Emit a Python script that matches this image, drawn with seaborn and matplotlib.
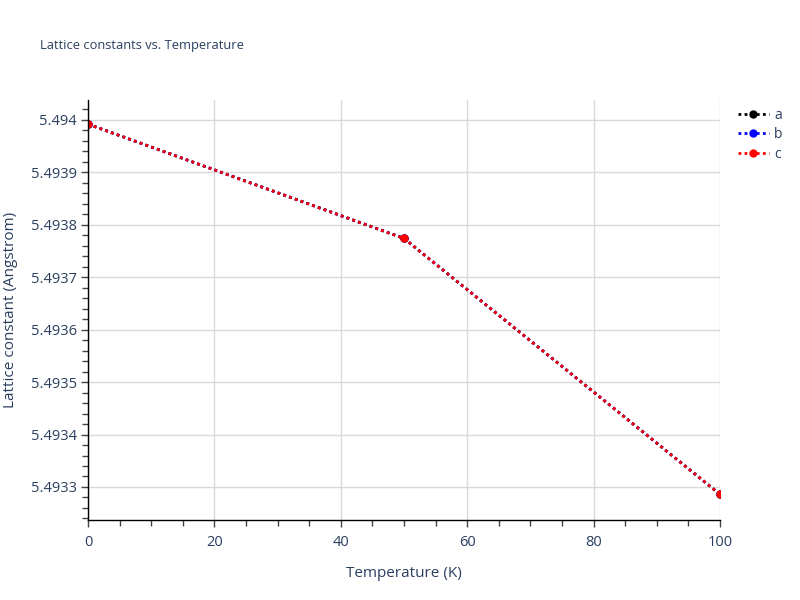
import matplotlib
matplotlib.use("Agg")
import matplotlib.pyplot as plt
import seaborn as sns
import pandas as pd
from matplotlib.ticker import MultipleLocator

# ── data ─────────────────────────────────────────────────────
temperature = [0, 50, 100]
lattice_a = [5.493992, 5.493774, 5.493286]
lattice_b = [5.493992, 5.493774, 5.493286]
lattice_c = [5.493992, 5.493774, 5.493286]
series_names = ["a", "b", "c"]
series_colors = ["black", "blue", "red"]

df = pd.DataFrame({
    "Temperature": temperature * 3,
    "value": lattice_a + lattice_b + lattice_c,
    "series": [n for n in series_names for _ in temperature],
})

sns.set_style("white")
plt.rcParams["font.family"] = ["Open Sans", "DejaVu Sans"]
txt = "#2a3f5f"

fig = plt.figure(figsize=(8, 6), dpi=100)
ax = fig.add_axes([0.11, 0.1333, 0.79, 0.70])

sns.lineplot(data=df, x="Temperature", y="value", hue="series",
             palette=dict(zip(series_names, series_colors)),
             linestyle=(0, (1, 1.2)), linewidth=2, marker="o", markersize=6,
             markeredgewidth=0, ax=ax, legend=False)

ax.set_xlim(0, 100)
ax.set_ylim(5.493237, 5.494038)
ax.xaxis.set_major_locator(MultipleLocator(20))
ax.xaxis.set_minor_locator(MultipleLocator(5))
ax.yaxis.set_major_locator(MultipleLocator(0.0001))
ax.yaxis.set_minor_locator(MultipleLocator(0.00002))
ax.yaxis.set_major_formatter(matplotlib.ticker.FuncFormatter(
    lambda v, p: f"{v:.7f}".rstrip("0")))

ax.grid(True, which="major", color="#d9d9d9", linewidth=1)
ax.set_axisbelow(True)
for s in ["top", "right"]:
    ax.spines[s].set_visible(False)
for s in ["left", "bottom"]:
    ax.spines[s].set_color("black")
    ax.spines[s].set_linewidth(1)

ax.tick_params(axis="both", which="both", bottom=True, left=True)
ax.tick_params(axis="both", which="major", direction="out", length=5,
               width=1, color="#444444", labelsize=10.5, labelcolor=txt, pad=3)
ax.tick_params(axis="both", which="minor", direction="out", length=4,
               width=1, color="#444444")
ax.tick_params(axis="x", which="major", pad=6)

ax.set_xlabel("Temperature (K)", fontsize=11, color=txt, labelpad=11)
ax.set_ylabel("Lattice constant (Angstrom)", fontsize=11, color=txt, labelpad=9)
fig.text(0.05, 0.925, "Lattice constants vs. Temperature", fontsize=9.3,
         color=txt, va="center")

# legend
handles = [plt.Line2D([0], [0], color=c, linestyle=(0, (1, 1.2)), linewidth=2,
                      marker="o", markersize=6, markeredgewidth=0)
           for c in series_colors]
leg = fig.legend(handles, series_names, loc="upper left",
                 bbox_to_anchor=(0.907, 0.841), frameon=False, fontsize=10,
                 handlelength=2.2, labelspacing=0.32, handletextpad=0.4)
for t in leg.get_texts():
    t.set_color(txt)

fig.savefig("out.png", dpi=100)
